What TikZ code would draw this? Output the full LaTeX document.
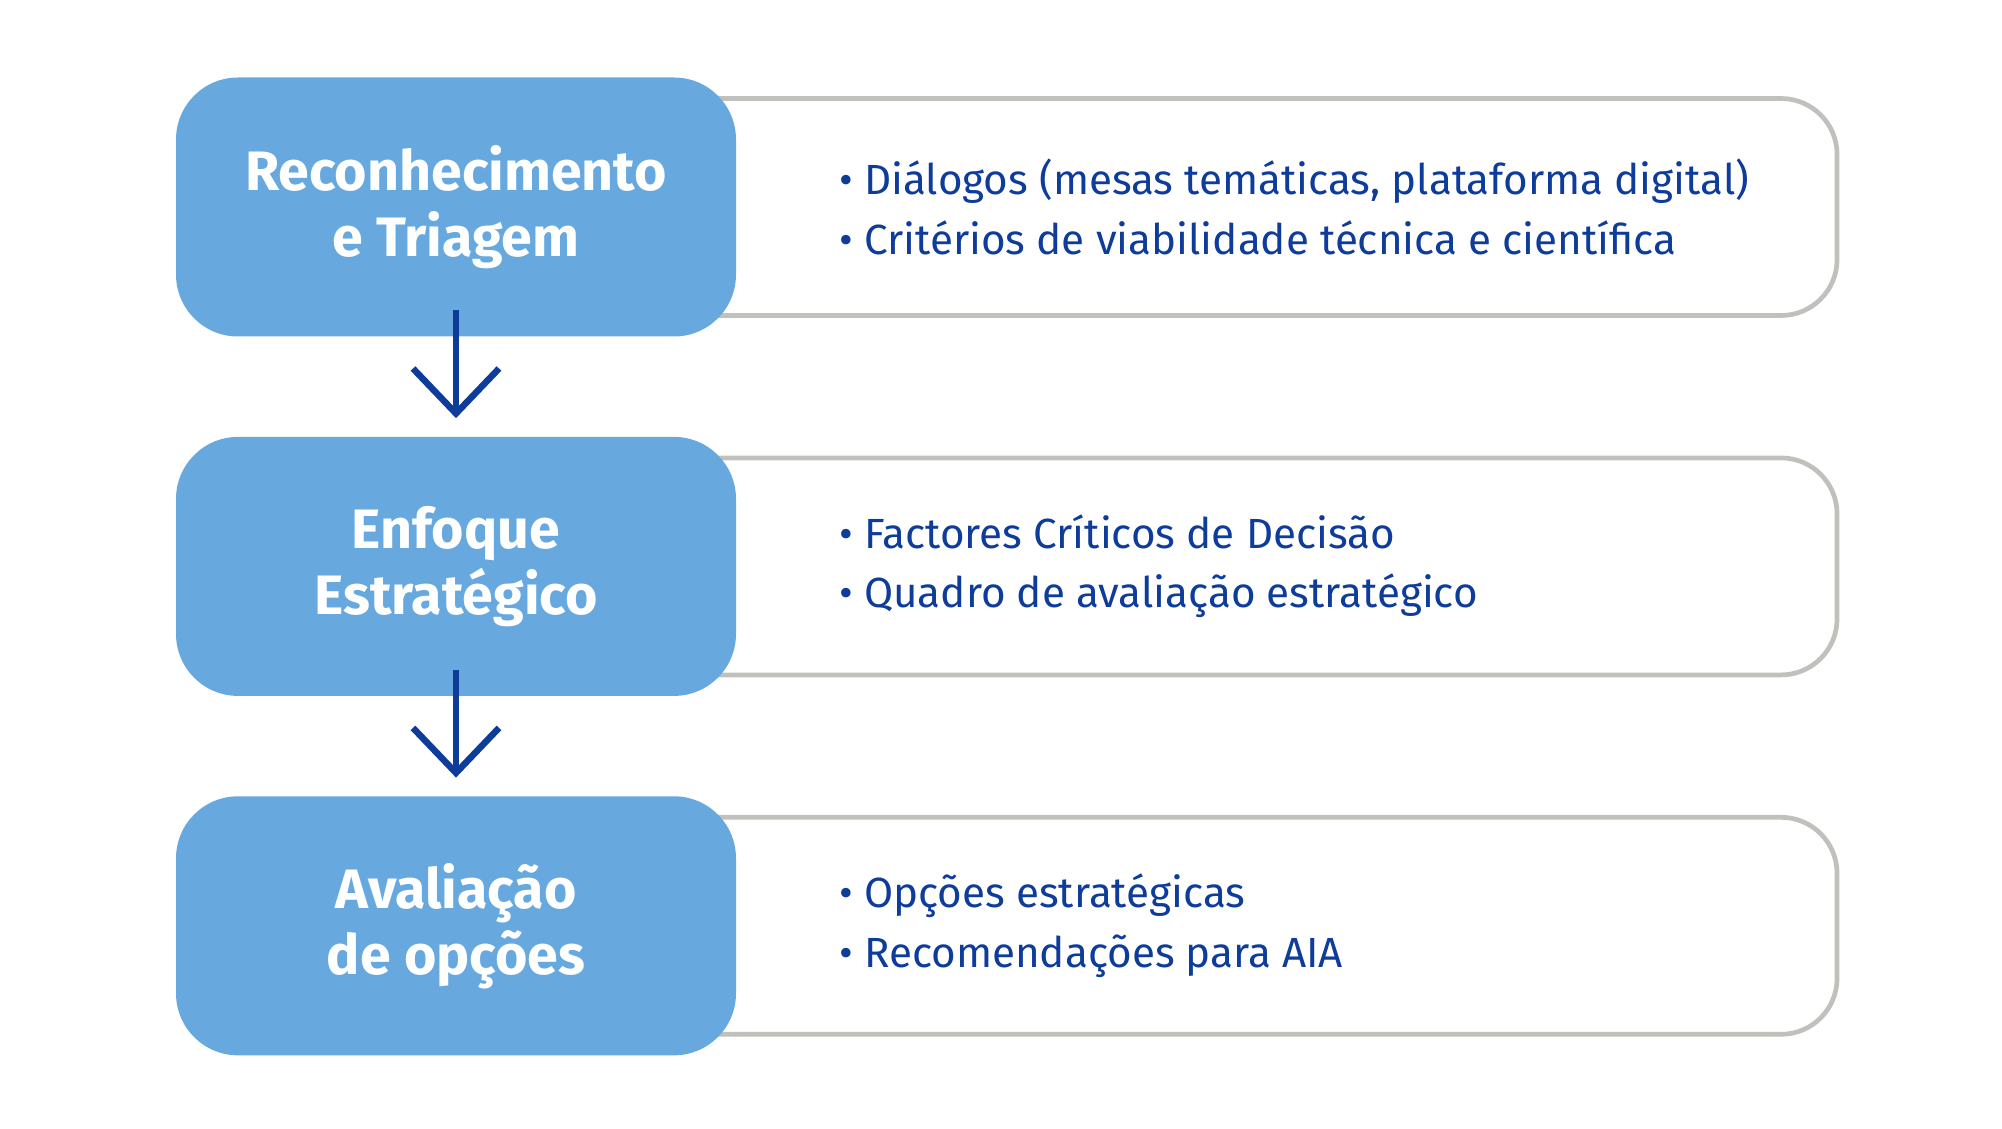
\documentclass[tikz,border=0pt]{standalone}
\usepackage{fontspec}
\setmainfont{Fira Sans}
\usetikzlibrary{arrows.meta, positioning, backgrounds}

\definecolor{stageblue}{RGB}{103,169,223}
\definecolor{textblue}{RGB}{14,60,155}
\definecolor{framegray}{RGB}{192,192,188}

\begin{document}
\begin{tikzpicture}[
    node distance=0.99cm,
    stage/.style={rectangle, rounded corners=0.62cm, minimum width=5.6cm, minimum height=2.59cm, text centered, align=center, fill=stageblue, text=white, font=\fontsize{15.8}{18.8}\selectfont\bfseries},
    detail/.style={rectangle, rounded corners=0.56cm, minimum width=11.88cm, minimum height=2.17cm, draw=framegray, line width=0.047cm, anchor=west},
    items/.style={anchor=west, inner sep=0pt, align=left, text=textblue, font=\fontsize{12}{16.9}\selectfont},
    flow/.style={-{Straight Barb[length=0.45cm, width=0.86cm]}, draw=textblue, line width=0.065cm}
]
\useasboundingbox (0,0) rectangle (20.02,-11.29);

% Stages
\node[stage] (recon) at (4.56,-2.07) {Reconhecimento\\e Triagem};
\node[stage, below=of recon] (enfoque) {Enfoque\\Estratégico};
\node[stage, below=of enfoque] (avalia) {Avaliação\\de opções};

% Detail frames (behind the stages)
\begin{pgfonlayer}{background}
\node[detail] (frecon) at ([xshift=-0.9cm]recon.east) {};
\node[detail] (fenfoque) at ([xshift=-0.9cm]enfoque.east) {};
\node[detail] (favalia) at ([xshift=-0.9cm]avalia.east) {};
\end{pgfonlayer}

% Items
\node[items] (lrecon) at ([xshift=1.02cm]recon.east) {• Diálogos (mesas temáticas, plataforma digital)\\• Critérios de viabilidade técnica e científica};
\node[items] (lenfoque) at ([xshift=1.02cm]enfoque.east) {• Factores Críticos de Decisão\\• Quadro de avaliação estratégico};
\node[items] (lavalia) at ([xshift=1.02cm]avalia.east) {• Opções estratégicas\\• Recomendações para AIA};

% Arrows
\draw[flow] ([yshift=0.27cm]recon.south) -- ([yshift=0.18cm]enfoque.north);
\draw[flow] ([yshift=0.27cm]enfoque.south) -- ([yshift=0.18cm]avalia.north);

\end{tikzpicture}
\end{document}
